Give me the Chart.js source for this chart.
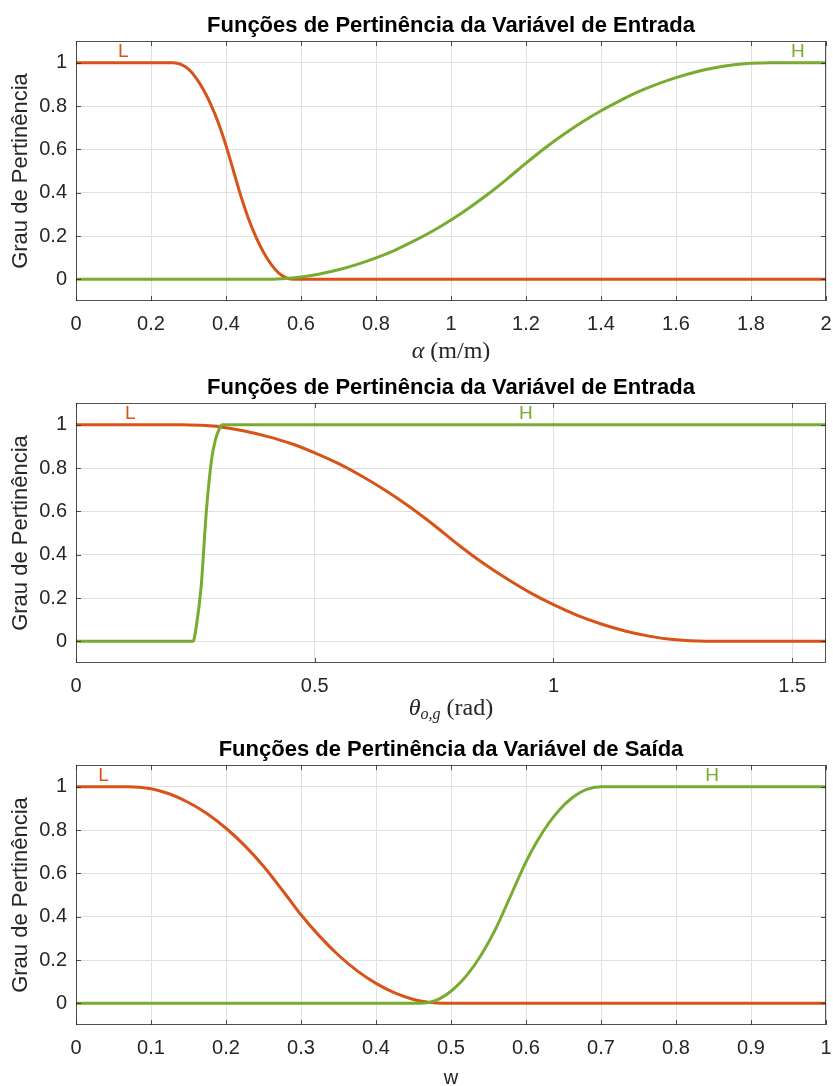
<!DOCTYPE html>
<html>
<head>
<meta charset="utf-8">
<script src="https://cdn.jsdelivr.net/npm/chart.js@4.4.1/dist/chart.umd.min.js"></script>
<style>
  body { margin: 0; background: #fff; }
  .panel { position: absolute; left: 0; width: 833px; height: 362px; }
</style>
</head>
<body>
<div class="panel" style="top:0px"><canvas id="c1" width="833" height="362"></canvas></div>
<div class="panel" style="top:362px"><canvas id="c2" width="833" height="362"></canvas></div>
<div class="panel" style="top:724px"><canvas id="c3" width="833" height="362"></canvas></div>
<script>
// values
const alphaLx = [0, 0.26, 0.28, 0.30, 0.32, 0.34, 0.36, 0.38, 0.40, 0.42, 0.44, 0.46, 0.48, 0.50, 0.52, 0.54, 0.56, 0.58, 2];
const alphaLy = [1, 1, 0.992, 0.97, 0.93, 0.875, 0.805, 0.72, 0.617, 0.5, 0.383, 0.28, 0.195, 0.125, 0.07, 0.03, 0.008, 0, 0];
const alphaHx = [0, 0.5, 0.55, 0.6, 0.65, 0.7, 0.75, 0.8, 0.85, 0.9, 0.95, 1.0, 1.05, 1.1, 1.15, 1.2, 1.25, 1.3, 1.35, 1.4, 1.45, 1.5, 1.55, 1.6, 1.65, 1.7, 1.75, 1.8, 1.85, 2];
const alphaHy = [0, 0, 0.003, 0.011, 0.025, 0.044, 0.069, 0.099, 0.134, 0.176, 0.222, 0.274, 0.332, 0.395, 0.464, 0.536, 0.605, 0.668, 0.726, 0.778, 0.824, 0.866, 0.901, 0.931, 0.956, 0.975, 0.989, 0.997, 1, 1];

const thetaLx = [0, 0.22, 0.26, 0.3, 0.35, 0.4, 0.45, 0.5, 0.55, 0.6, 0.65, 0.7, 0.75, 0.8, 0.85, 0.9, 0.95, 1.0, 1.05, 1.1, 1.15, 1.2, 1.25, 1.32, 1.5708];
const thetaLy = [1, 1, 0.997, 0.99, 0.972, 0.946, 0.913, 0.87, 0.82, 0.761, 0.694, 0.619, 0.536, 0.447, 0.365, 0.292, 0.226, 0.169, 0.12, 0.08, 0.048, 0.024, 0.008, 0, 0];
const thetaHx = [0, 0.245, 0.252, 0.262, 0.273, 0.284, 0.292, 0.300, 0.306, 1.5708];
const thetaHy = [0, 0, 0.07, 0.25, 0.6, 0.84, 0.93, 0.98, 1, 1];

const wLx = [0, 0.07, 0.1, 0.125, 0.15, 0.175, 0.2, 0.225, 0.25, 0.28, 0.3, 0.325, 0.35, 0.375, 0.4, 0.425, 0.45, 0.47, 0.49, 1];
const wLy = [1, 1, 0.99, 0.966, 0.927, 0.875, 0.808, 0.728, 0.633, 0.5, 0.409, 0.309, 0.222, 0.15, 0.092, 0.048, 0.018, 0.005, 0, 0];
const wHx = [0, 0.46, 0.48, 0.5, 0.515, 0.53, 0.545, 0.56, 0.58, 0.6, 0.615, 0.63, 0.645, 0.66, 0.68, 0.7, 1];
const wHy = [0, 0, 0.014, 0.056, 0.105, 0.17, 0.251, 0.347, 0.5, 0.653, 0.749, 0.83, 0.895, 0.944, 0.986, 1, 1];

const yTicks = [0, 0.2, 0.4, 0.6, 0.8, 1];
const alphaTicks = [0, 0.2, 0.4, 0.6, 0.8, 1, 1.2, 1.4, 1.6, 1.8, 2];
const thetaTicks = [0, 0.5, 1, 1.5];
const wTicks = [0, 0.1, 0.2, 0.3, 0.4, 0.5, 0.6, 0.7, 0.8, 0.9, 1];

const titleIn = 'Funções de Pertinência da Variável de Entrada';
const titleOut = 'Funções de Pertinência da Variável de Saída';
const yLabel = 'Grau de Pertinência';

// x value of the L / H tags
const alphaTags = [0.126, 1.925];
const thetaTags = [0.1135, 0.942];
const wTags = [0.0368, 0.848];

const RED = '#D95319';
const GREEN = '#77AC30';
const AX = '#262626';
const SANS = '"Liberation Sans", Arial, Helvetica, sans-serif';
const SERIF = '"Liberation Serif", "DejaVu Serif", serif';

function pts(xs, ys) {
  return xs.map((x, i) => ({ x: x, y: ys[i] }));
}

function fmt(v) {
  return String(Math.round(v * 100) / 100);
}

// title, labels, box and inward ticks like matlab
function deco(cfg) {
  return {
    id: 'deco',
    afterDatasetsDraw(chart) {
      const ctx = chart.ctx;
      const a = chart.chartArea;
      const xs = chart.scales.x, ys = chart.scales.y;
      ctx.save();

      ctx.strokeStyle = 'rgba(38,38,38,0.8)';
      ctx.lineWidth = 1;
      ctx.beginPath();
      cfg.xticks.forEach(v => {
        const px = Math.round(xs.getPixelForValue(v)) + 0.5;
        ctx.moveTo(px, a.bottom); ctx.lineTo(px, a.bottom - 5);
        ctx.moveTo(px, a.top); ctx.lineTo(px, a.top + 5);
      });
      yTicks.forEach(v => {
        const py = Math.round(ys.getPixelForValue(v)) + 0.5;
        ctx.moveTo(a.left, py); ctx.lineTo(a.left + 5, py);
        ctx.moveTo(a.right, py); ctx.lineTo(a.right - 5, py);
      });
      ctx.stroke();
      ctx.strokeRect(a.left + 0.5, a.top + 0.5, a.right - a.left - 1, a.bottom - a.top - 1);

      // L and H
      ctx.font = '19px ' + SANS;
      ctx.textAlign = 'center';
      ctx.textBaseline = 'bottom';
      ctx.fillStyle = RED;
      ctx.fillText('L', xs.getPixelForValue(cfg.tags[0]), ys.getPixelForValue(1) - 1);
      ctx.fillStyle = GREEN;
      ctx.fillText('H', xs.getPixelForValue(cfg.tags[1]), ys.getPixelForValue(1) - 1);

      // title
      ctx.fillStyle = '#000';
      ctx.font = 'bold 22px ' + SANS;
      ctx.textBaseline = 'middle';
      ctx.fillText(cfg.title, (a.left + a.right) / 2, 26);

      // y label
      ctx.save();
      ctx.translate(21, (a.top + a.bottom) / 2);
      ctx.rotate(-Math.PI / 2);
      ctx.fillStyle = AX;
      ctx.font = '22px ' + SANS;
      ctx.fillText(yLabel, 0, 0);
      ctx.restore();

      // x label, drawn in pieces
      ctx.textAlign = 'left';
      ctx.textBaseline = 'alphabetic';
      let total = 0;
      cfg.xlabel.forEach(p => { ctx.font = p.f; total += ctx.measureText(p.t).width; });
      let cx = (a.left + a.right) / 2 - total / 2;
      cfg.xlabel.forEach(p => {
        ctx.font = p.f;
        ctx.fillStyle = AX;
        ctx.fillText(p.t, cx, cfg.xlabelY + (p.dy || 0));
        cx += ctx.measureText(p.t).width;
      });

      ctx.restore();
    }
  };
}

function makeChart(id, lData, hData, xmax, xticks, cfg) {
  cfg.xticks = xticks;
  return new Chart(document.getElementById(id), {
    type: 'line',
    data: {
      datasets: [
        { data: hData, borderColor: GREEN, borderWidth: 3, pointRadius: 0, cubicInterpolationMode: 'monotone' },
        { data: lData, borderColor: RED, borderWidth: 3, pointRadius: 0, cubicInterpolationMode: 'monotone' }
      ]
    },
    options: {
      responsive: false,
      animation: false,
      devicePixelRatio: 1,
      layout: { padding: { top: 41, right: 7, left: 0, bottom: 0 } },
      plugins: { legend: { display: false }, tooltip: { enabled: false } },
      scales: {
        x: {
          type: 'linear',
          min: 0,
          max: xmax,
          afterBuildTicks: s => { s.ticks = xticks.map(v => ({ value: v })); },
          afterFit: s => { s.height = 61; s.paddingLeft = 0; s.paddingRight = 0; },
          grid: { color: '#e0e0e0', drawTicks: false },
          border: { display: false },
          ticks: {
            autoSkip: false, maxRotation: 0, padding: 11,
            color: AX, font: { family: SANS, size: 20 },
            callback: v => fmt(v)
          }
        },
        y: {
          min: -0.1,
          max: 1.1,
          afterBuildTicks: s => { s.ticks = yTicks.map(v => ({ value: v })); },
          afterFit: s => { s.width = 76; },
          grid: { color: '#e0e0e0', drawTicks: false },
          border: { display: false },
          ticks: {
            padding: 9,
            color: AX, font: { family: SANS, size: 20 },
            callback: v => fmt(v)
          }
        }
      }
    },
    plugins: [deco(cfg)]
  });
}

makeChart('c1', pts(alphaLx, alphaLy), pts(alphaHx, alphaHy), 2, alphaTicks, {
  title: titleIn,
  tags: alphaTags,
  xlabelY: 358,
  xlabel: [
    { t: 'α', f: 'italic 24px ' + SERIF },
    { t: ' (m/m)', f: '24px ' + SERIF }
  ]
});

makeChart('c2', pts(thetaLx, thetaLy), pts(thetaHx, thetaHy), 1.5708, thetaTicks, {
  title: titleIn,
  tags: thetaTags,
  xlabelY: 353,
  xlabel: [
    { t: 'θ', f: 'italic 24px ' + SERIF },
    { t: 'o,g', f: 'italic 16px ' + SERIF, dy: 4 },
    { t: ' (rad)', f: '24px ' + SERIF }
  ]
});

makeChart('c3', pts(wLx, wLy), pts(wHx, wHy), 1, wTicks, {
  title: titleOut,
  tags: wTags,
  xlabelY: 360,
  xlabel: [
    { t: 'w', f: '20px ' + SANS }
  ]
});
</script>
</body>
</html>
